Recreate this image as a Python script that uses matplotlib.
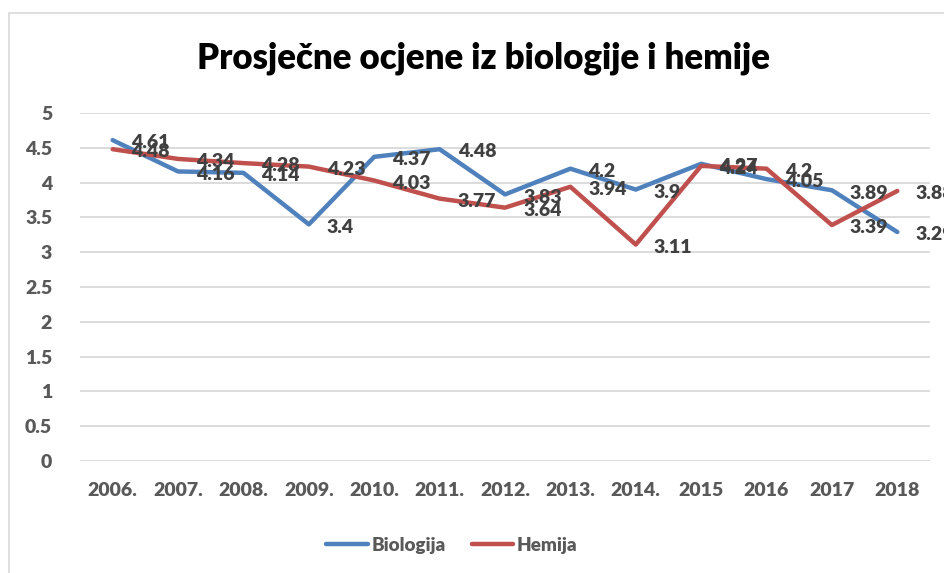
import matplotlib
matplotlib.use("Agg")
import matplotlib.pyplot as plt
from matplotlib.patches import Rectangle

# data
years = ["2006.", "2007.", "2008.", "2009.", "2010.", "2011.", "2012.",
         "2013.", "2014.", "2015", "2016", "2017", "2018"]
biologija = [4.61, 4.16, 4.14, 3.4, 4.37, 4.48, 3.83, 4.2, 3.9, 4.27, 4.05, 3.89, 3.29]
hemija = [4.48, 4.34, 4.28, 4.23, 4.03, 3.77, 3.64, 3.94, 3.11, 4.24, 4.2, 3.39, 3.88]
yticks = [0, 0.5, 1, 1.5, 2, 2.5, 3, 3.5, 4, 4.5, 5]

plt.rcParams['font.family'] = ['Lato', 'DejaVu Sans']

W, H = 945, 573
fig = plt.figure(figsize=(W / 100, H / 100), dpi=100)
ax = fig.add_axes([80 / W, (H - 461) / H, 850 / W, 348 / H])

# chart area border (cut off at right and bottom in the reference)
fig.patches.append(Rectangle((9 / W, -0.1), 1.2, (H - 13) / H + 0.1,
                             transform=fig.transFigure, fill=False,
                             edgecolor='#D9D9D9', linewidth=1.2))

x = list(range(len(years)))
blue = '#4F81BD'
red = '#C0504D'
ax.plot(x, biologija, color=blue, linewidth=3.2, label='Biologija', solid_capstyle='round')
ax.plot(x, hemija, color=red, linewidth=3.2, label='Hemija', solid_capstyle='round')

for series in (biologija, hemija):
    for xi, v in zip(x, series):
        ax.annotate(f"{v:g}", (xi, v), xytext=(13, -2), textcoords='offset points',
                    ha='left', va='center', fontsize=14, color='#404040',
                    fontweight='heavy', annotation_clip=False)

ax.set_xlim(-0.5, len(years) - 0.5)
ax.set_ylim(0, 5)
ax.set_yticks(yticks)
ax.set_yticklabels([f"{t:g}" for t in yticks], fontweight='heavy', fontsize=14)
ax.set_xticks(x)
ax.set_xticklabels(years, fontweight='heavy', fontsize=14)
ax.tick_params(length=0, labelcolor='#595959')
ax.tick_params(axis='y', pad=20)
ax.tick_params(axis='x', pad=15)
ax.grid(axis='y', color='#D9D9D9', linewidth=1.3)
ax.set_axisbelow(True)
for s in ax.spines.values():
    s.set_visible(False)

fig.text(484 / W, 1 - 58 / H, "Prosječne ocjene iz biologije i hemije",
         ha='center', va='center', fontsize=25, fontweight='heavy', color='black')

leg = fig.legend(loc='center', bbox_to_anchor=(452 / W, 1 - 545 / H), ncol=2,
                 frameon=False, prop={'size': 13.5, 'weight': 'heavy'},
                 handlelength=2.2, columnspacing=1.4, handletextpad=0.2)
for t in leg.get_texts():
    t.set_color('#595959')

fig.savefig('out.png', dpi=100)
